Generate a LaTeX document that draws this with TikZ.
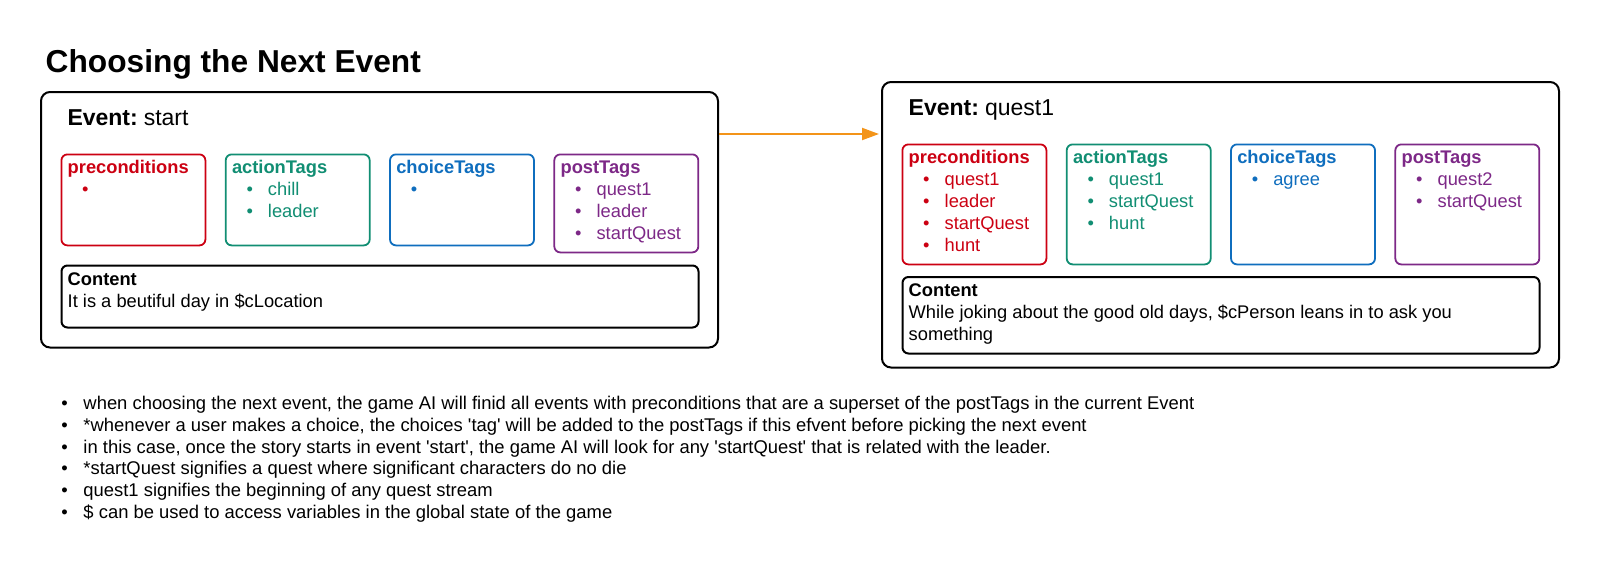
\documentclass[tikz,border=0pt]{standalone}
\usepackage{fontspec}
\setmainfont{Liberation Sans}
\usepackage{xcolor}
\definecolor{tagred}{RGB}{204,0,18}
\definecolor{taggreen}{RGB}{17,142,115}
\definecolor{tagblue}{RGB}{15,110,190}
\definecolor{tagpurple}{RGB}{125,40,135}
\definecolor{arrorange}{RGB}{243,148,25}
\usetikzlibrary{arrows.meta}
\newcommand{\firstline}{\rule{0pt}{14pt}}
\newcommand{\tagitem}[1]{\\\hspace*{14.5pt}\makebox[21.5pt][l]{\textbullet}#1}
\newcommand{\noteitem}[1]{\makebox[22.2pt][l]{\textbullet}#1}
\newcommand{\q}{\textquotesingle}

\begin{document}
\begin{tikzpicture}[
  x=1pt, y=-1pt,
  font=\fontsize{18.3}{22}\selectfont,
  eventbox/.style={
    rectangle, rounded corners=9pt,
    draw=black, line width=2pt,
    anchor=north west, minimum width=677pt, inner sep=0pt
  },
  tagbox/.style={
    rectangle, rounded corners=6pt,
    draw=#1, line width=1.8pt,
    anchor=north west, minimum width=144pt, inner sep=0pt
  },
  contentbox/.style={
    rectangle, rounded corners=6pt,
    draw=black, line width=2pt,
    anchor=north west, minimum width=637pt, inner sep=0pt
  },
  tagtext/.style={anchor=north west, inner sep=0pt, align=left, text=#1},
  tagtext/.default=black,
  head/.style={font=\fontsize{23}{27}\selectfont, anchor=base west, inner sep=0pt},
  arr/.style={-{Triangle[length=17pt,width=12pt]}, line width=2pt, color=arrorange, shorten >=2pt}
]
\fill[white] (0,0) rectangle (1600,574);
\useasboundingbox (0,0) rectangle (1600,574);

\node[anchor=base west, inner sep=0pt, font=\bfseries\fontsize{31.7}{38}\selectfont]
  (title) at (45.5,72.5) {Choosing the Next Event};

% event: start
\node[eventbox, minimum height=255.5pt] (evstart) at (40,91) {};
\node[head] (evstarthead) at (67.3,125) {\textbf{Event:}\hspace{6pt}start};

\node[tagbox=tagred, minimum height=91pt] (prestart) at (60.5,153.5) {};
\node[tagtext=tagred] (prestarttxt) at (67.5,159.3)
  {\firstline\textbf{preconditions}\tagitem{}};
\node[tagbox=taggreen, minimum height=91pt] (actstart) at (224.8,153.5) {};
\node[tagtext=taggreen] (actstarttxt) at (231.8,159.3)
  {\firstline\textbf{actionTags}\tagitem{chill}\tagitem{leader}};
\node[tagbox=tagblue, minimum height=91pt] (chostart) at (389.1,153.5) {};
\node[tagtext=tagblue] (chostarttxt) at (396.1,159.3)
  {\firstline\textbf{choiceTags}\tagitem{}};
\node[tagbox=tagpurple, minimum height=98pt] (poststart) at (553.4,153.5) {};
\node[tagtext=tagpurple] (poststarttxt) at (560.4,159.3)
  {\firstline\textbf{postTags}\tagitem{quest1}\tagitem{leader}\tagitem{startQuest}};

\node[contentbox, minimum height=62pt] (constart) at (60.5,264.5) {};
\node[tagtext] (constarttxt) at (67.5,271)
  {\firstline\textbf{Content}\\It is a beutiful day in \$cLocation};

% event: quest1
\node[eventbox, minimum height=285.5pt] (evquest) at (881,81) {};
\node[head] (evquesthead) at (908.5,115) {\textbf{Event:}\hspace{6pt}quest1};

\node[tagbox=tagred, minimum height=120pt] (prequest) at (901.5,143.5) {};
\node[tagtext=tagred] (prequesttxt) at (908.5,149.3)
  {\firstline\textbf{preconditions}\tagitem{quest1}\tagitem{leader}\tagitem{startQuest}\tagitem{hunt}};
\node[tagbox=taggreen, minimum height=120pt] (actquest) at (1065.8,143.5) {};
\node[tagtext=taggreen] (actquesttxt) at (1072.8,149.3)
  {\firstline\textbf{actionTags}\tagitem{quest1}\tagitem{startQuest}\tagitem{hunt}};
\node[tagbox=tagblue, minimum height=120pt] (choquest) at (1230.1,143.5) {};
\node[tagtext=tagblue] (choquesttxt) at (1237.1,149.3)
  {\firstline\textbf{choiceTags}\tagitem{agree}};
\node[tagbox=tagpurple, minimum height=120pt] (postquest) at (1394.4,143.5) {};
\node[tagtext=tagpurple] (postquesttxt) at (1401.4,149.3)
  {\firstline\textbf{postTags}\tagitem{quest2}\tagitem{startQuest}};

\node[contentbox, minimum height=76.5pt] (conquest) at (901.5,276) {};
\node[tagtext] (conquesttxt) at (908.5,282.5)
  {\firstline\textbf{Content}\\While joking about the good old days, \$cPerson leans in to ask you\\something};

% next event arrow
\coordinate (arrstart) at ([yshift=-43pt]evstart.north east);
\draw[arr] (arrstart) -- (arrstart -| evquest.west);

% notes
\node[tagtext, font=\fontsize{18.4}{21.7}\selectfont] (notes) at (61.1,395.5)
  {\firstline\noteitem{when choosing the next event, the game AI will finid all events with preconditions that are a superset of the postTags in the current Event}\\
   \noteitem{*whenever a user makes a choice, the choices \q tag\q{} will be added to the postTags if this efvent before picking the next event}\\
   \noteitem{in this case, once the story starts in event \q start\q, the game AI will look for any \q startQuest\q{} that is related with the leader.}\\
   \noteitem{*startQuest signifies a quest where significant characters do no die}\\
   \noteitem{quest1 signifies the beginning of any quest stream}\\
   \noteitem{\$ can be used to access variables in the global state of the game}};
\end{tikzpicture}
\end{document}
